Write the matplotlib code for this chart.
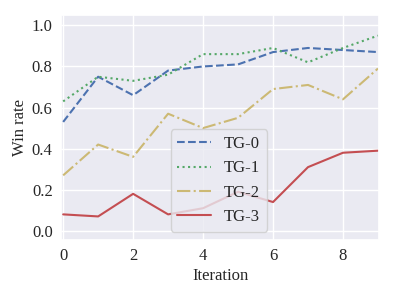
import matplotlib
matplotlib.use("Agg")
import matplotlib.pyplot as plt
import seaborn as sns

# win rate per iteration
iterations = list(range(10))
tg0 = [0.53, 0.75, 0.66, 0.78, 0.80, 0.81, 0.87, 0.89, 0.88, 0.87]
tg1 = [0.63, 0.75, 0.73, 0.76, 0.86, 0.86, 0.89, 0.82, 0.89, 0.95]
tg2 = [0.27, 0.42, 0.36, 0.57, 0.50, 0.55, 0.69, 0.71, 0.64, 0.79]
tg3 = [0.08, 0.07, 0.18, 0.08, 0.11, 0.19, 0.14, 0.31, 0.38, 0.39]
labels = ["TG-0", "TG-1", "TG-2", "TG-3"]

sns.set_theme(style="darkgrid", color_codes=True)
plt.rcParams['font.family'] = ['Liberation Serif', 'DejaVu Serif']
plt.rcParams['xtick.labelsize'] = 12
plt.rcParams['ytick.labelsize'] = 12
plt.rcParams['legend.fontsize'] = 12
plt.rcParams['axes.labelsize'] = 12

fig = plt.figure(figsize=(3.94, 2.96), dpi=100)
ax = fig.add_axes([0.155, 0.189, 0.807, 0.760])

ax.plot(iterations, tg0, 'b--', label=labels[0])
ax.plot(iterations, tg1, 'g:', label=labels[1])
ax.plot(iterations, tg2, 'y-.', label=labels[2])
ax.plot(iterations, tg3, 'r-', label=labels[3])

ax.set_xlim(-0.06, 9.03)
ax.set_ylim(-0.045, 1.05)
ax.set_xticks([0, 2, 4, 6, 8])
ax.set_yticks([0.0, 0.2, 0.4, 0.6, 0.8, 1.0])
ax.tick_params(length=0, pad=6)
ax.set_xlabel("Iteration")
ax.set_ylabel("Win rate")
ax.xaxis.set_label_coords(0.5, -0.125)
ax.yaxis.set_label_coords(-0.105, 0.5)
ax.legend(loc="lower left", bbox_to_anchor=(0.345, 0.037), borderaxespad=0)

fig.savefig("out.png", dpi=100)
